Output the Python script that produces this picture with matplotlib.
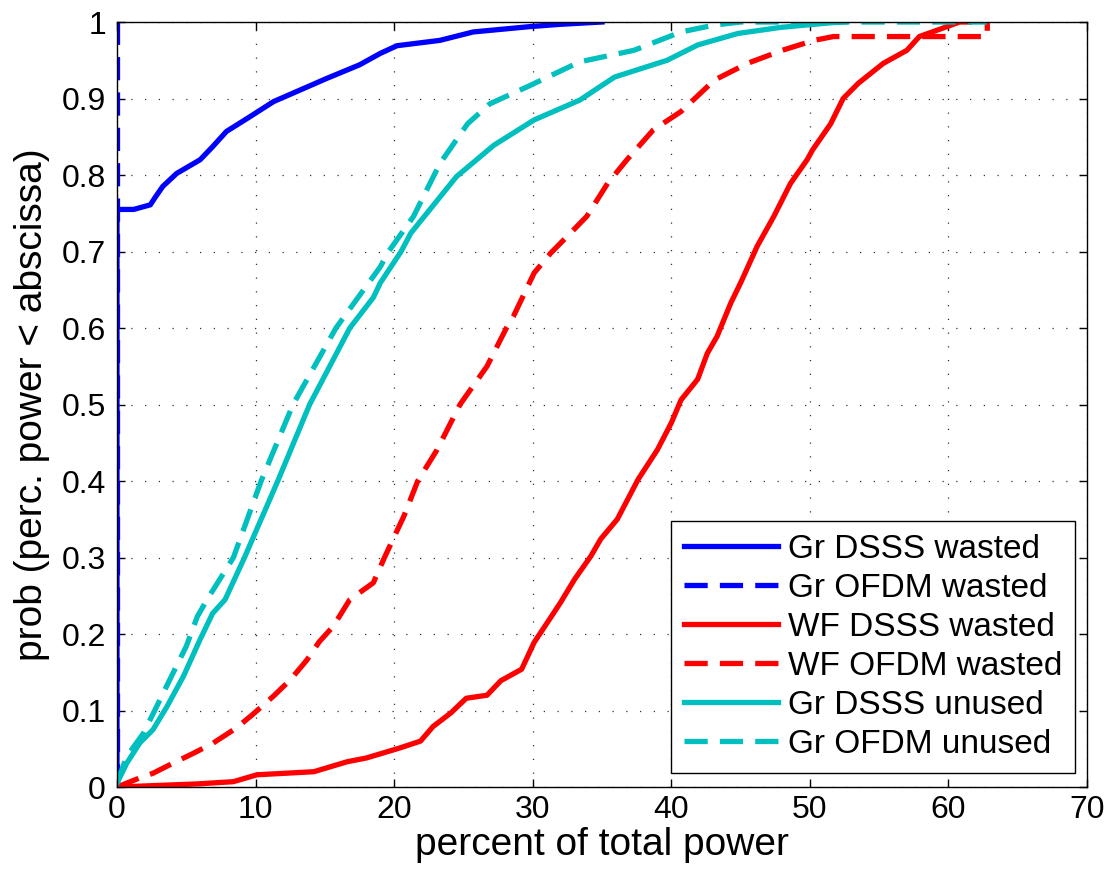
import matplotlib
matplotlib.use("Agg")
import matplotlib.pyplot as plt

plt.rcParams['font.family'] = ['Liberation Sans', 'DejaVu Sans']

# empirical CDFs of the percentage of total power
gr_dsss_wasted_x = [0, 0, 1.2, 2.4, 2.8, 3.3, 4.3, 6.0, 6.9, 7.9, 9.4, 11.3, 13.2,
                    15.1, 17.5, 19.0, 20.2, 23.3, 25.7, 29.8, 32.0, 35.0]
gr_dsss_wasted_y = [0, 0.755, 0.755, 0.761, 0.772, 0.785, 0.802, 0.820, 0.837,
                    0.857, 0.874, 0.896, 0.911, 0.926, 0.944, 0.959, 0.969, 0.976,
                    0.987, 0.994, 0.997, 1.0]

gr_ofdm_wasted_x = [0, 0]
gr_ofdm_wasted_y = [0, 1.0]

wf_dsss_wasted_x = [0, 5.75, 8.4, 10.1, 14.2, 16.6, 18.0, 20.4, 21.9, 22.8, 24.1,
                    25.2, 26.7, 27.7, 29.2, 30.1, 31.2, 32.0, 33.0, 34.2, 34.9,
                    36.1, 37.6, 39.0, 40.0, 40.7, 41.9, 42.6, 43.3, 44.3, 45.0,
                    46.2, 47.4, 48.6, 49.8, 50.2, 51.5, 52.4, 53.5, 55.3, 57.0,
                    57.9, 59.9, 60.8, 61.5]
wf_dsss_wasted_y = [0, 0.004, 0.007, 0.016, 0.020, 0.033, 0.038, 0.051, 0.060,
                    0.079, 0.097, 0.116, 0.120, 0.139, 0.154, 0.189, 0.219, 0.241,
                    0.271, 0.302, 0.324, 0.350, 0.402, 0.441, 0.476, 0.506, 0.533,
                    0.567, 0.589, 0.633, 0.659, 0.707, 0.746, 0.789, 0.820, 0.833,
                    0.867, 0.900, 0.920, 0.946, 0.963, 0.981, 0.994, 1.0, 1.0]

wf_ofdm_wasted_x = [0, 1.66, 2.6, 3.8, 5.5, 6.9, 8.6, 9.8, 11.3, 12.5, 13.7, 14.6,
                    15.6, 16.8, 18.5, 19.3, 20.7, 21.7, 23.1, 24.75, 26.7, 28.1,
                    28.6, 30.1, 31.3, 32.5, 33.9, 35.4, 36.8, 38.7, 40.7, 43.1,
                    45.5, 48.0, 50.3, 51.7, 62.8, 62.8]
wf_ofdm_wasted_y = [0, 0.012, 0.018, 0.029, 0.044, 0.057, 0.077, 0.095, 0.119,
                    0.140, 0.166, 0.190, 0.210, 0.245, 0.267, 0.300, 0.354, 0.400,
                    0.441, 0.500, 0.550, 0.600, 0.615, 0.672, 0.698, 0.720, 0.746,
                    0.789, 0.820, 0.859, 0.883, 0.924, 0.946, 0.963, 0.976, 0.981,
                    0.981, 1.0]

gr_dsss_unused_x = [0, 0.7, 1.66, 2.6, 3.6, 4.8, 6.0, 6.9, 7.8, 9.2, 11.6, 13.9,
                    16.8, 18.5, 19.0, 20.5, 21.2, 24.5, 27.2, 30.1, 33.4, 35.9,
                    39.7, 41.9, 44.8, 47.9, 51.5, 52.5]
gr_dsss_unused_y = [0.005, 0.031, 0.058, 0.075, 0.105, 0.145, 0.193, 0.227, 0.245,
                    0.300, 0.400, 0.500, 0.600, 0.640, 0.659, 0.700, 0.724, 0.798,
                    0.839, 0.872, 0.898, 0.928, 0.950, 0.970, 0.985, 0.993, 0.999,
                    1.0]

gr_ofdm_unused_x = [0, 0.7, 1.9, 3.1, 3.8, 5.0, 5.8, 6.5, 8.4, 10.4, 12.7, 15.8,
                    19.0, 19.6, 21.4, 23.3, 25.3, 26.9, 29.8, 33.4, 37.3, 40.7,
                    43.1, 45.0, 62.8]
gr_ofdm_unused_y = [0.005, 0.040, 0.070, 0.114, 0.140, 0.184, 0.223, 0.245, 0.300,
                    0.400, 0.500, 0.600, 0.680, 0.700, 0.746, 0.815, 0.867, 0.893,
                    0.917, 0.948, 0.963, 0.987, 0.996, 1.0, 1.0]

labels = ['Gr DSSS wasted', 'Gr OFDM wasted', 'WF DSSS wasted',
          'WF OFDM wasted', 'Gr DSSS unused', 'Gr OFDM unused']

blue = '#0000ff'
red = '#ff0000'
cyan = '#00bfbf'
lw = 3.8
dash = (0, (4.4, 2.3))

fig = plt.figure(figsize=(11.08, 8.77), dpi=100)
ax = fig.add_axes([0.1056, 0.1026, 0.8755, 0.8723])

ax.plot(gr_dsss_wasted_x, gr_dsss_wasted_y, color=blue, lw=lw, label=labels[0])
ax.plot(gr_ofdm_wasted_x, gr_ofdm_wasted_y, color=blue, lw=lw, ls=dash, label=labels[1])
ax.plot(wf_dsss_wasted_x, wf_dsss_wasted_y, color=red, lw=lw, label=labels[2])
ax.plot(wf_ofdm_wasted_x, wf_ofdm_wasted_y, color=red, lw=lw, ls=dash, label=labels[3])
ax.plot(gr_dsss_unused_x, gr_dsss_unused_y, color=cyan, lw=lw, label=labels[4])
ax.plot(gr_ofdm_unused_x, gr_ofdm_unused_y, color=cyan, lw=lw, ls=dash, label=labels[5])

ax.set_xlim(0, 70)
ax.set_ylim(0, 1)
ax.set_xticks(range(0, 71, 10))
ax.set_yticks([i / 10 for i in range(11)])
ax.set_yticklabels(['0', '0.1', '0.2', '0.3', '0.4', '0.5', '0.6', '0.7', '0.8', '0.9', '1'])

ax.grid(True, color='0.2', lw=0.9, ls=(0, (1, 10)))
ax.tick_params(direction='in', length=6, width=1, top=True, right=True, labelsize=23)
ax.tick_params(axis='x', pad=6)
ax.tick_params(axis='y', pad=8)
for s in ax.spines.values():
    s.set_linewidth(1)

ax.set_xlabel('percent of total power', fontsize=28, labelpad=1)
ax.set_ylabel('prob (perc. power < abscissa)', fontsize=28, labelpad=8)

leg = ax.legend(loc='lower right', fontsize=24, handlelength=2.8, labelspacing=0.24,
                borderpad=0.4, handletextpad=0.3, borderaxespad=0.0,
                bbox_to_anchor=(0.988, 0.018), fancybox=False, framealpha=1)
leg.get_frame().set_edgecolor('black')
leg.get_frame().set_linewidth(1)

fig.savefig('out.png', dpi=100)
